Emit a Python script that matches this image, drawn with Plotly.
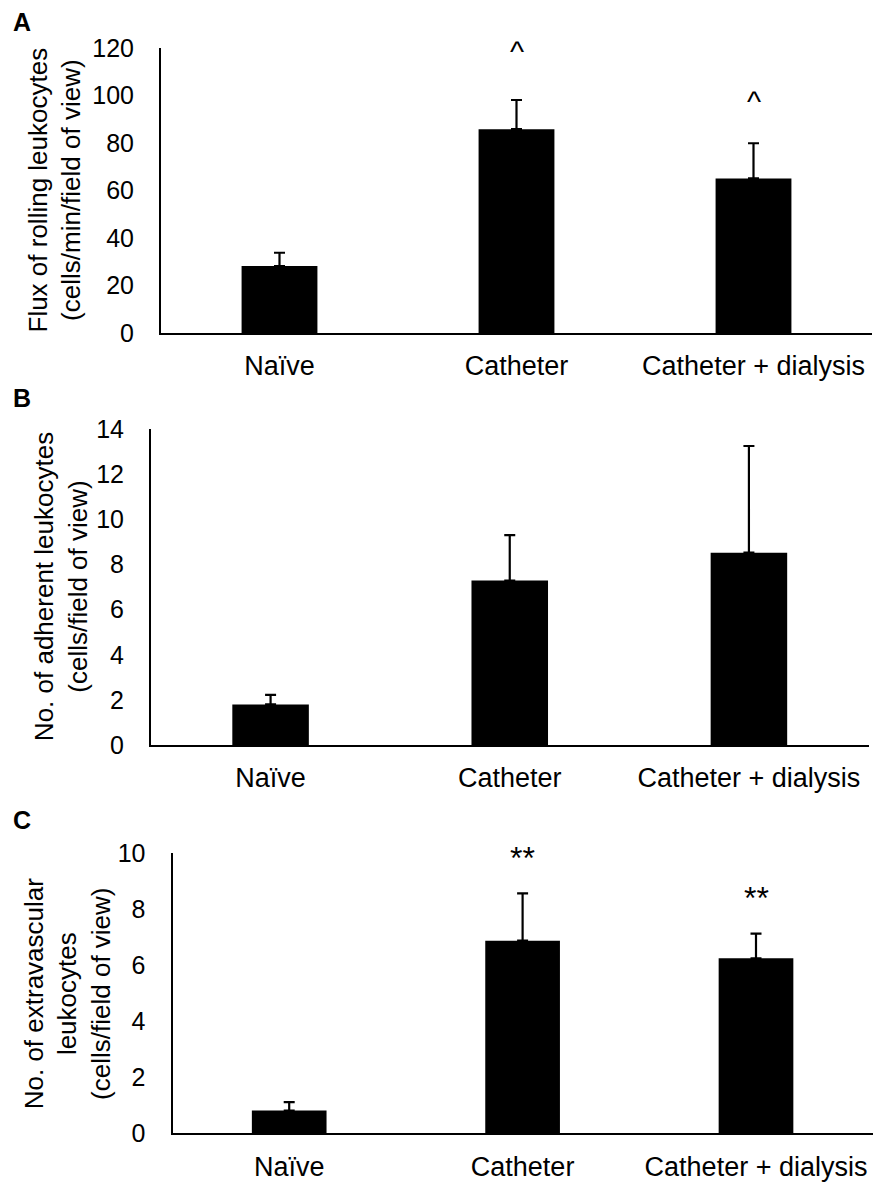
import plotly.graph_objects as go

# ---- data ----
categories = ["Naïve", "Catheter", "Catheter + dialysis"]

rolling_flux = [28.2, 85.8, 65.1]
rolling_flux_err = [5.6, 12.3, 14.8]
rolling_marks = ["", "^", "^"]
rolling_mark_y = [None, 118.5, 97.5]
ticks_a = [0, 20, 40, 60, 80, 100, 120]

adherent = [1.80, 7.29, 8.53]
adherent_err = [0.42, 2.02, 4.73]
ticks_b = [0, 2, 4, 6, 8, 10, 12, 14]

extravascular = [0.81, 6.88, 6.25]
extravascular_err = [0.30, 1.69, 0.88]
extrav_marks = ["", "**", "**"]
extrav_mark_y = [None, 9.82, 8.42]
ticks_c = [0, 2, 4, 6, 8, 10]

W, H = 874, 1182
FONT = "Liberation Sans, Arial, sans-serif"


def px_x(p):
    return p / W


def px_y(p):
    return 1 - p / H


panels = [
    dict(vals=rolling_flux, err=rolling_flux_err, ticks=ticks_a, rng=[0, 120],
         xd=[px_x(161), px_x(872)], yd=[px_y(333), px_y(48)],
         title="Flux of rolling leukocytes<br>(cells/min/field of view)", tx=54,
         letter="A", ly=22),
    dict(vals=adherent, err=adherent_err, ticks=ticks_b, rng=[0, 14],
         xd=[px_x(151), px_x(868.5)], yd=[px_y(745), px_y(429.3)],
         title="No. of adherent leukocytes<br>(cells/field of view)", tx=61,
         letter="B", ly=398),
    dict(vals=extravascular, err=extravascular_err, ticks=ticks_c, rng=[0, 10],
         xd=[px_x(172.5), px_x(872.7)], yd=[px_y(1133.3), px_y(853.3)],
         title="No. of extravascular<br>leukocytes<br>(cells/field of view)", tx=68,
         letter="C", ly=820),
]

fig = go.Figure()
annotations = []
layout = dict(
    width=W, height=H,
    margin=dict(l=0, r=0, t=0, b=0, pad=0, autoexpand=False),
    paper_bgcolor="white", plot_bgcolor="white",
    showlegend=False,
    font=dict(family=FONT, color="black"),
)

for i, p in enumerate(panels, start=1):
    sx = "" if i == 1 else str(i)
    fig.add_trace(go.Bar(
        x=categories, y=p["vals"],
        xaxis="x" + sx, yaxis="y" + sx,
        width=0.32,
        marker=dict(color="black", line=dict(width=0)),
        error_y=dict(type="data", array=p["err"], symmetric=False,
                     arrayminus=[0, 0, 0], color="black", thickness=2.2, width=5.5),
    ))
    layout["xaxis" + sx] = dict(
        domain=p["xd"], anchor="y" + sx, type="category", range=[-0.5, 2.5],
        showline=True, linecolor="black", linewidth=2, ticks="",
        showgrid=False, zeroline=False, automargin=False,
        tickfont=dict(size=27, family=FONT, color="black"),
        ticklabelstandoff=8,
    )
    layout["yaxis" + sx] = dict(
        domain=p["yd"], anchor="x" + sx, range=p["rng"], tickvals=p["ticks"],
        showline=True, linecolor="black", linewidth=2, ticks="",
        showgrid=False, zeroline=False, automargin=False,
        tickfont=dict(size=25, family=FONT, color="black"),
        ticklabelstandoff=20,
    )
    annotations.append(dict(
        text=p["title"], textangle=-90, xref="paper", yref="paper",
        x=px_x(p["tx"]), y=(p["yd"][0] + p["yd"][1]) / 2,
        xanchor="center", yanchor="middle", showarrow=False,
        font=dict(size=26, family=FONT, color="black"),
    ))
    annotations.append(dict(
        text="<b>" + p["letter"] + "</b>", xref="paper", yref="paper",
        x=px_x(11), y=px_y(p["ly"]), xanchor="left", yanchor="middle",
        showarrow=False, font=dict(size=25, family=FONT, color="black"),
    ))

for cat, m, y in zip(categories, rolling_marks, rolling_mark_y):
    if m:
        annotations.append(dict(text=m, x=cat, y=y, xref="x", yref="y",
                                showarrow=False, yanchor="middle",
                                font=dict(size=30, family=FONT, color="black")))
for cat, m, y in zip(categories, extrav_marks, extrav_mark_y):
    if m:
        annotations.append(dict(text=m, x=cat, y=y, xref="x3", yref="y3",
                                showarrow=False, yanchor="middle",
                                font=dict(size=32, family=FONT, color="black")))

layout["annotations"] = annotations
fig.update_layout(**layout)
fig.write_html(
    "out.html",
    config={"displayModeBar": False},
    post_script="document.body.style.margin='0';document.body.style.padding='0';",
)
